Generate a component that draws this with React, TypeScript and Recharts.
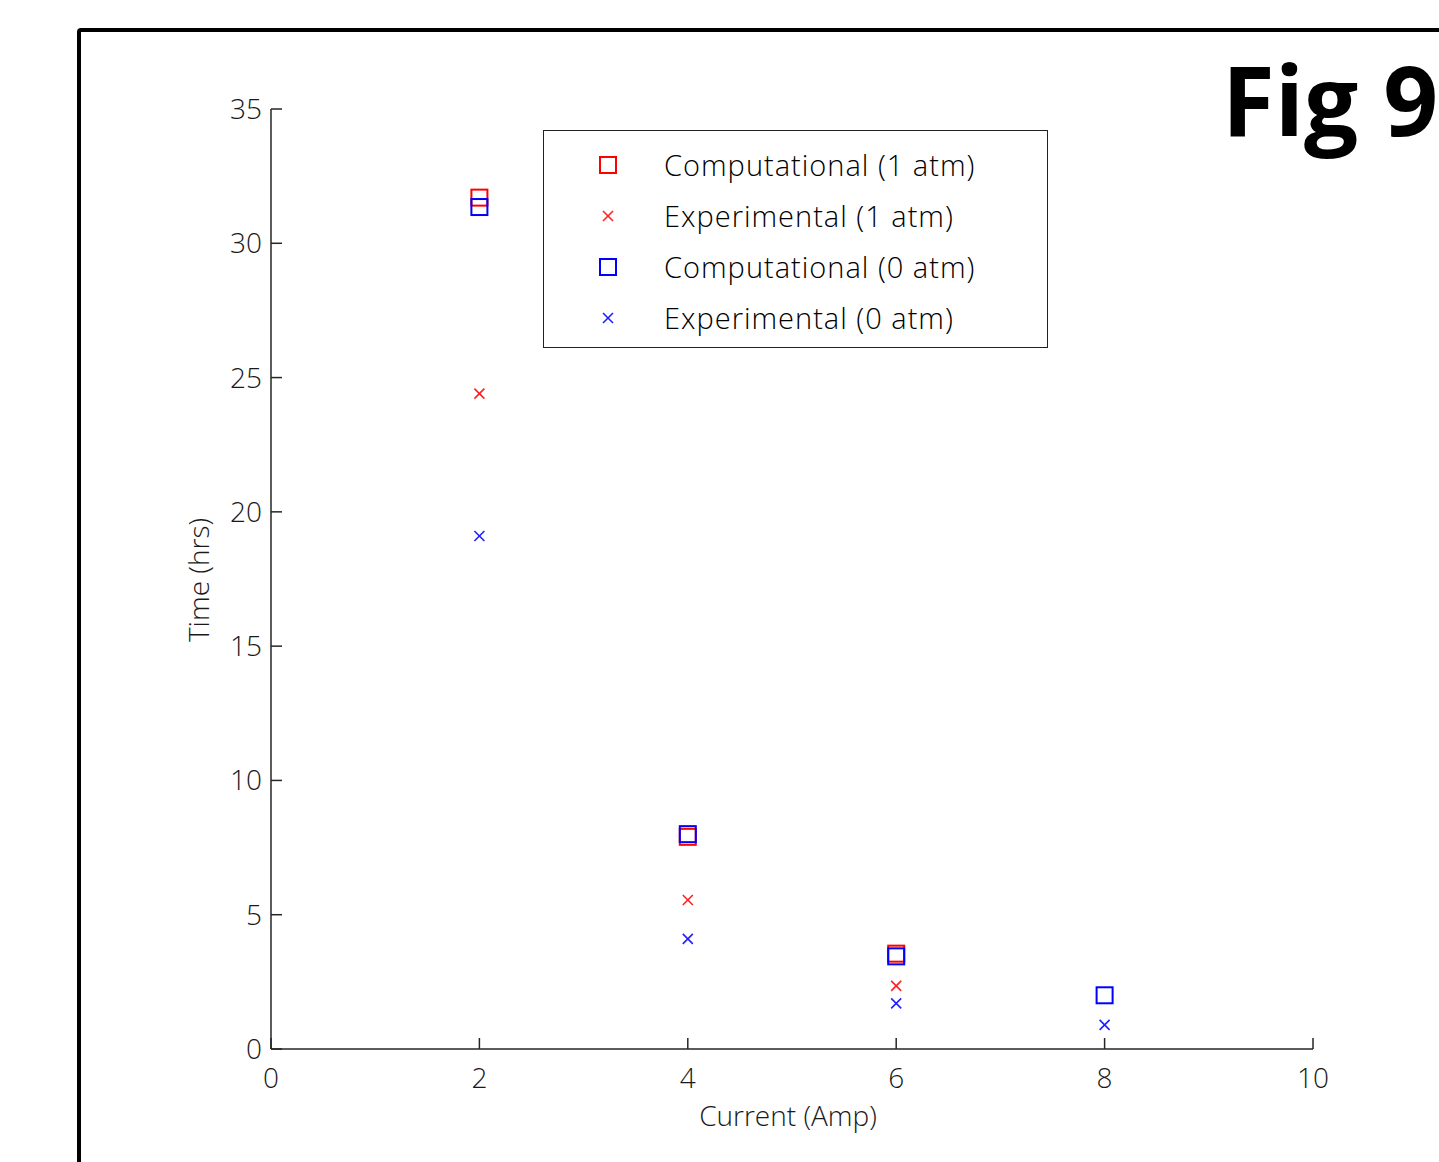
import { ScatterChart, Scatter, XAxis, YAxis } from 'recharts';

const currents = [2, 4, 6, 8];
const compOneAtm = [31.7, 7.9, 3.55];
const expOneAtm = [24.4, 5.55, 2.35];
const compZeroAtm = [31.35, 8.0, 3.45, 2.0];
const expZeroAtm = [19.1, 4.1, 1.7, 0.9];

const xTicks = [0, 2, 4, 6, 8, 10];
const yTicks = [0, 5, 10, 15, 20, 25, 30, 35];

const toPoints = (vals: number[]) => vals.map((v, i) => ({ x: currents[i], y: v }));

const series = [
  { name: 'Computational (1 atm)', color: '#ff0000', kind: 'square', data: toPoints(compOneAtm) },
  { name: 'Experimental (1 atm)', color: '#ff2020', kind: 'cross', data: toPoints(expOneAtm) },
  { name: 'Computational (0 atm)', color: '#0000ff', kind: 'square', data: toPoints(compZeroAtm) },
  { name: 'Experimental (0 atm)', color: '#2020ff', kind: 'cross', data: toPoints(expZeroAtm) },
];

const FONT = '"Open Sans", sans-serif';
const AXIS = '#262626';

const Marker = ({ cx, cy, kind, color }: { cx: number; cy: number; kind: string; color: string }) => {
  if (kind === 'square') {
    return <rect x={cx - 8} y={cy - 8} width={16} height={16} fill="none" stroke={color} strokeWidth={2} />;
  }
  const s = 5;
  return (
    <g stroke={color} strokeWidth={1.6}>
      <line x1={cx - s} y1={cy - s} x2={cx + s} y2={cy + s} />
      <line x1={cx - s} y1={cy + s} x2={cx + s} y2={cy - s} />
    </g>
  );
};

const XTick = (props: any) => {
  const { x, y, payload } = props;
  const axisY = y - 14;
  return (
    <g>
      <line x1={x} y1={axisY} x2={x} y2={axisY - 11} stroke={AXIS} strokeWidth={1.5} />
      <text x={x} y={y} dy={25} textAnchor="middle" fontSize={28} fontFamily={FONT} fontWeight={300} fill="#1a1a1a">
        {payload.value}
      </text>
    </g>
  );
};

const YTick = (props: any) => {
  const { x, y, payload } = props;
  const axisX = x + 9;
  return (
    <g>
      <line x1={axisX} y1={y} x2={axisX + 11} y2={y} stroke={AXIS} strokeWidth={1.5} />
      <text x={x} y={y} dy={10} textAnchor="end" fontSize={28} fontFamily={FONT} fontWeight={300} fill="#1a1a1a">
        {payload.value}
      </text>
    </g>
  );
};

const LegendBox = () => (
  <div
    style={{
      position: 'absolute',
      left: 543,
      top: 130,
      width: 505,
      height: 218,
      border: '1.5px solid #222',
      background: '#fff',
      boxSizing: 'border-box',
    }}
  >
    {series.map((s) => (
      <div key={s.name} style={{ height: 51, display: 'flex', alignItems: 'center', position: 'relative', top: 8 }}>
        <svg width={130} height={44} style={{ flex: 'none' }}>
          <Marker cx={64} cy={22} kind={s.kind} color={s.color} />
        </svg>
        <span style={{ fontFamily: FONT, fontSize: 29, fontWeight: 300, color: '#000', marginLeft: -10, letterSpacing: 1 }}>
          {s.name}
        </span>
      </div>
    ))}
  </div>
);

export default function App() {
  return (
    <div style={{ position: 'absolute', left: 0, top: 0, width: 1439, height: 1162, overflow: 'hidden', background: '#fff' }}>
      <div
        style={{
          position: 'absolute',
          left: 77,
          top: 28,
          width: 1500,
          height: 1300,
          border: '4px solid #000',
          borderRadius: 4,
        }}
      />
      <div
        style={{
          position: 'absolute',
          left: 1222,
          top: 41,
          fontFamily: FONT,
          fontWeight: 700,
          fontSize: 96,
          lineHeight: '115px',
          color: '#000',
          whiteSpace: 'nowrap',
        }}
      >
        Fig 9
      </div>
      <div style={{ position: 'absolute', left: 0, top: 0 }}>
        <ScatterChart width={1439} height={1162} margin={{ top: 109, right: 126, bottom: 53, left: 181 }}>
          <XAxis
            type="number"
            dataKey="x"
            domain={[0, 10]}
            ticks={xTicks}
            tickLine={false}
            tickSize={0}
            tickMargin={14}
            height={60}
            axisLine={{ stroke: AXIS, strokeWidth: 1.5 }}
            tick={<XTick />}
            label={(p: any) => (
              <text
                x={p.viewBox.x + p.viewBox.width / 2 - 4}
                y={p.viewBox.y + 77}
                textAnchor="middle"
                fontSize={28}
                fontWeight={300}
                fontFamily={FONT}
                fill="#1a1a1a"
              >
                Current (Amp)
              </text>
            )}
          />
          <YAxis
            type="number"
            dataKey="y"
            domain={[0, 35]}
            ticks={yTicks}
            tickLine={false}
            tickSize={0}
            tickMargin={9}
            width={90}
            axisLine={{ stroke: AXIS, strokeWidth: 1.5 }}
            tick={<YTick />}
            label={(p: any) => {
              const cx = p.viewBox.x + 17;
              const cy = p.viewBox.y + p.viewBox.height / 2 + 1;
              return (
                <text
                  x={cx}
                  y={cy}
                  transform={`rotate(-90 ${cx} ${cy})`}
                  textAnchor="middle"
                  dominantBaseline="central"
                  fontSize={28}
                  fontWeight={300}
                  fontFamily={FONT}
                  fill="#1a1a1a"
                >
                  Time (hrs)
                </text>
              );
            }}
          />
          {series.map((s) => (
            <Scatter
              key={s.name}
              name={s.name}
              data={s.data}
              fill={s.color}
              isAnimationActive={false}
              shape={(p: any) => <Marker cx={p.cx} cy={p.cy} kind={s.kind} color={s.color} />}
            />
          ))}
        </ScatterChart>
      </div>
      <LegendBox />
    </div>
  );
}
